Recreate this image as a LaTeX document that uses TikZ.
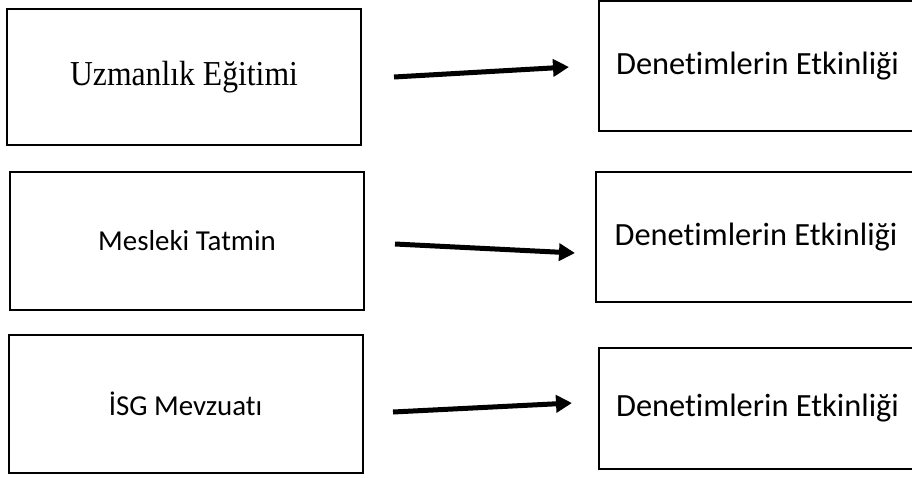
\documentclass[tikz,border=0pt]{standalone}
\usepackage{fontspec}
\setmainfont{Liberation Serif}
\newfontfamily\tnr[FakeStretch=0.905]{Liberation Serif}
\newfontfamily\calibri[Ligatures={NoCommon,NoRequired,NoContextual,NoRare}]{Carlito}
\usetikzlibrary{arrows.meta}
\begin{document}
\begin{tikzpicture}[x=1pt,y=-1pt,
  lbox/.style={draw,line width=2pt,minimum width=354pt,inner sep=0pt,anchor=center},
  rbox/.style={draw,line width=1.6pt,minimum width=317pt,inner sep=0pt,anchor=center,
    font=\calibri\fontsize{32.4}{38}\selectfont},
  arr/.style={line width=5pt,-{Triangle[length=16pt,width=17pt]}}]
\useasboundingbox (0,0) rectangle (912,477);
\fill[white] (0,0) rectangle (912,477);
% left boxes
\node[lbox,minimum height=136pt,font=\tnr\fontsize{35}{40}\selectfont] (l1) at (184,77) {Uzmanlık Eğitimi};
\node[lbox,minimum height=138pt,font=\calibri\fontsize{28.9}{34}\selectfont] (l2) at (187,241) {Mesleki Tatmin};
\node[lbox,minimum height=138pt,font=\calibri\fontsize{28.9}{34}\selectfont] (l3) at (185.5,404) {İSG Mevzuatı};
% right boxes
\node[rbox,minimum height=130pt] (r1) at (757.5,66) {Denetimlerin Etkinliği};
\node[rbox,minimum height=130pt,minimum width=320pt] (r2) at (756,237) {Denetimlerin Etkinliği};
\node[rbox,minimum height=121pt] (r3) at (757.5,408.5) {Denetimlerin Etkinliği};
% arrow ends
\coordinate (a1s) at (394,77);  \coordinate (a1e) at (569,67);
\coordinate (a2s) at (395,244); \coordinate (a2e) at (575,253);
\coordinate (a3s) at (393,412); \coordinate (a3e) at (572,403);
\draw[arr] (a1s) -- (a1e);
\draw[arr] (a2s) -- (a2e);
\draw[arr] (a3s) -- (a3e);
\end{tikzpicture}
\end{document}
